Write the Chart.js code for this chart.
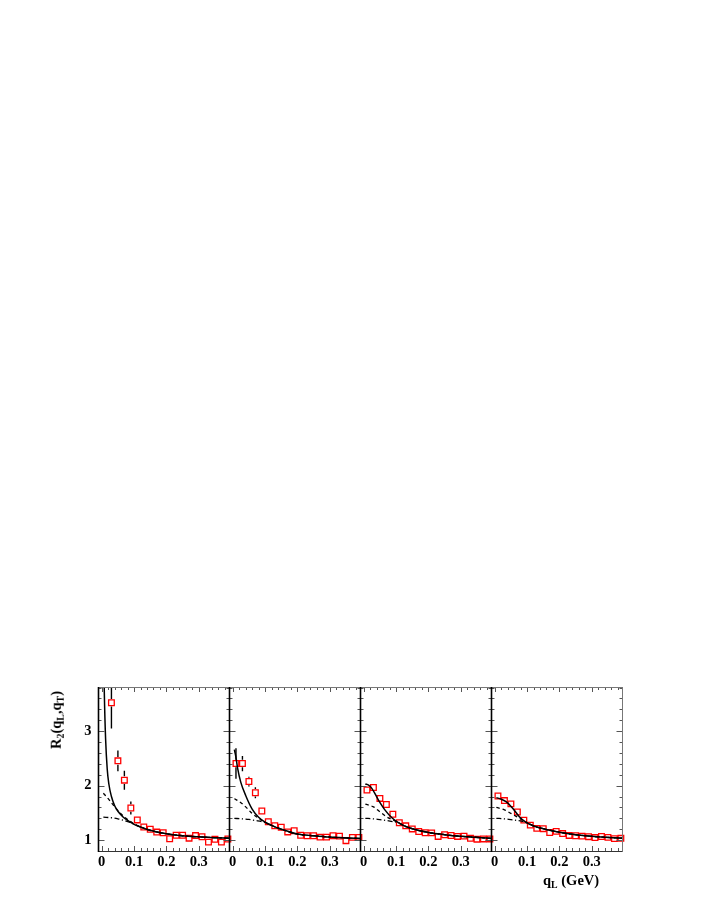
<!DOCTYPE html>
<html>
<head>
<meta charset="utf-8">
<script src="https://cdn.jsdelivr.net/npm/chart.js@4.4.1/dist/chart.umd.min.js"></script>
<style>
  body { margin: 0; background: #fff; }
  #wrap { position: relative; width: 708px; height: 917px; background: #fff; }
  #wrap canvas { position: absolute; left: 0; top: 0; }
  .lbl { position: absolute; font: bold 14.5px "Liberation Serif", serif; white-space: nowrap; line-height: 1; color: #000; }
  .lbl sub { font-size: 68%; vertical-align: -0.3em; line-height: 0; }
  #ytitle { left: 56px; top: 720px; transform: translate(-50%, -50%) rotate(-90deg); }
  #xtitle { left: 543px; top: 873px; }
</style>
</head>
<body>
<div id="wrap">
  <canvas id="p0" width="708" height="917"></canvas>
  <canvas id="p1" width="708" height="917"></canvas>
  <canvas id="p2" width="708" height="917"></canvas>
  <canvas id="p3" width="708" height="917"></canvas>
  <div class="lbl" id="ytitle">R<sub>2</sub>(q<sub>L</sub>,q<sub>T</sub>)</div>
  <div class="lbl" id="xtitle">q<sub>L</sub> (GeV)</div>
</div>
<script>
// bin centres in q_L (GeV)
const qBins = [0.01, 0.03, 0.05, 0.07, 0.09, 0.11, 0.13, 0.15, 0.17, 0.19,
               0.21, 0.23, 0.25, 0.27, 0.29, 0.31, 0.33, 0.35, 0.37, 0.39];

// measured R2 per panel (first bin of panel 1 is off scale)
const r2Panel1 = [null, 3.52, 2.455, 2.10, 1.59, 1.37, 1.24, 1.20, 1.147, 1.134,
                  1.024, 1.09, 1.09, 1.035, 1.083, 1.062, 0.963, 1.015, 0.963, 1.02];
const r2Panel2 = [2.405, 2.405, 2.075, 1.87, 1.535, 1.336, 1.263, 1.235, 1.15, 1.172,
                  1.09, 1.08, 1.08, 1.055, 1.055, 1.08, 1.073, 0.99, 1.05, 1.05];
const r2Panel3 = [1.92, 1.965, 1.765, 1.653, 1.475, 1.318, 1.262, 1.205, 1.158, 1.135,
                  1.133, 1.068, 1.098, 1.085, 1.068, 1.073, 1.033, 1.017, 1.022, 1.022];
const r2Panel4 = [1.81, 1.725, 1.665, 1.515, 1.367, 1.275, 1.215, 1.21, 1.14, 1.16,
                  1.12, 1.086, 1.08, 1.073, 1.063, 1.046, 1.066, 1.05, 1.027, 1.033];

const errPanel1 = [null, 0.47, 0.19, 0.175, 0.12, 0.06, 0.04, 0.03, 0.03, 0.03,
                   0.03, 0.02, 0.02, 0.02, 0.02, 0.02, 0.02, 0.02, 0.02, 0.02];
const errPanel2 = [0.28, 0.14, 0.09, 0.10, 0.07, 0.04, 0.03, 0.03, 0.02, 0.02,
                   0.02, 0.02, 0.02, 0.02, 0.02, 0.02, 0.02, 0.02, 0.02, 0.02];
const errPanel3 = [0.05, 0.04, 0.03, 0.03, 0.02, 0.02, 0.02, 0.02, 0.02, 0.02,
                   0.02, 0.02, 0.02, 0.02, 0.02, 0.02, 0.02, 0.02, 0.02, 0.02];
const errPanel4 = [0.03, 0.02, 0.02, 0.02, 0.02, 0.02, 0.02, 0.02, 0.02, 0.02,
                   0.02, 0.02, 0.02, 0.02, 0.02, 0.02, 0.02, 0.02, 0.02, 0.02];

// model curves, [q, R2]
const solid1 = [[0.005, 4.8], [0.008, 3.7], [0.012, 2.85], [0.017, 2.3], [0.022, 2.03], [0.03, 1.8],
                [0.04, 1.63], [0.05, 1.53], [0.065, 1.43], [0.08, 1.36], [0.1, 1.29], [0.12, 1.24],
                [0.15, 1.18], [0.2, 1.115], [0.25, 1.08], [0.3, 1.06], [0.35, 1.045], [0.395, 1.035]];
const dashed1 = [[0.005, 1.86], [0.02, 1.76], [0.04, 1.61], [0.06, 1.48], [0.08, 1.38], [0.1, 1.3],
                 [0.12, 1.24], [0.15, 1.18], [0.2, 1.115], [0.25, 1.08], [0.3, 1.06], [0.35, 1.045], [0.395, 1.035]];
const dashDot1 = [[0.005, 1.42], [0.03, 1.41], [0.05, 1.39], [0.07, 1.36], [0.09, 1.32], [0.1, 1.295],
                  [0.12, 1.24], [0.15, 1.18], [0.2, 1.115], [0.25, 1.08], [0.3, 1.06], [0.35, 1.045], [0.395, 1.035]];

const solid2 = [[0.005, 2.66], [0.01, 2.52], [0.015, 2.32], [0.025, 2.06], [0.04, 1.82], [0.06, 1.57],
                [0.08, 1.42], [0.1, 1.33], [0.12, 1.27], [0.15, 1.2], [0.2, 1.11], [0.25, 1.08],
                [0.3, 1.055], [0.35, 1.04], [0.395, 1.03]];
const dashed2 = [[0.005, 1.76], [0.02, 1.71], [0.04, 1.61], [0.06, 1.49], [0.08, 1.4], [0.1, 1.33],
                 [0.12, 1.27], [0.15, 1.2], [0.2, 1.11], [0.25, 1.08], [0.3, 1.055], [0.35, 1.04], [0.395, 1.03]];
const dashDot2 = [[0.005, 1.4], [0.03, 1.39], [0.05, 1.38], [0.07, 1.36], [0.09, 1.34], [0.11, 1.3],
                  [0.12, 1.27], [0.15, 1.2], [0.2, 1.11], [0.25, 1.08], [0.3, 1.055], [0.35, 1.04], [0.395, 1.03]];

const solid3 = [[0.005, 2.03], [0.015, 2.01], [0.025, 1.95], [0.046, 1.73], [0.066, 1.55], [0.087, 1.41],
                [0.107, 1.32], [0.13, 1.25], [0.15, 1.21], [0.2, 1.14], [0.25, 1.1], [0.3, 1.07],
                [0.35, 1.05], [0.395, 1.03]];
const dashed3 = [[0.005, 1.66], [0.03, 1.61], [0.05, 1.52], [0.07, 1.43], [0.09, 1.37], [0.107, 1.32],
                 [0.13, 1.25], [0.15, 1.21], [0.2, 1.14], [0.25, 1.1], [0.3, 1.07], [0.35, 1.05], [0.395, 1.03]];
const dashDot3 = [[0.005, 1.4], [0.03, 1.39], [0.05, 1.375], [0.07, 1.36], [0.09, 1.34], [0.107, 1.32],
                  [0.13, 1.25], [0.15, 1.21], [0.2, 1.14], [0.25, 1.1], [0.3, 1.07], [0.35, 1.05], [0.395, 1.03]];

const solid4 = [[0.005, 1.78], [0.02, 1.75], [0.036, 1.7], [0.056, 1.58], [0.076, 1.43], [0.096, 1.33],
                [0.12, 1.26], [0.15, 1.21], [0.2, 1.145], [0.25, 1.1], [0.3, 1.07], [0.35, 1.05], [0.395, 1.035]];
const dashed4 = [[0.005, 1.6], [0.03, 1.555], [0.05, 1.49], [0.065, 1.44], [0.08, 1.39], [0.096, 1.33],
                 [0.12, 1.26], [0.15, 1.21], [0.2, 1.145], [0.25, 1.1], [0.3, 1.07], [0.35, 1.05], [0.395, 1.035]];
const dashDot4 = [[0.005, 1.4], [0.03, 1.39], [0.05, 1.375], [0.07, 1.36], [0.09, 1.34], [0.105, 1.31],
                  [0.12, 1.26], [0.15, 1.21], [0.2, 1.145], [0.25, 1.1], [0.3, 1.07], [0.35, 1.05], [0.395, 1.035]];

const xTickValues = [0, 0.1, 0.2, 0.3];
const xTickLabels = ["0", "0.1", "0.2", "0.3"];
const yTickValues = [1, 2, 3];
const yTickLabels = ["1", "2", "3"];

const panels = [
  { r2: r2Panel1, err: errPanel1, solid: solid1, dashed: dashed1, dashDot: dashDot1 },
  { r2: r2Panel2, err: errPanel2, solid: solid2, dashed: dashed2, dashDot: dashDot2 },
  { r2: r2Panel3, err: errPanel3, solid: solid3, dashed: dashed3, dashDot: dashDot3 },
  { r2: r2Panel4, err: errPanel4, solid: solid4, dashed: dashed4, dashDot: dashDot4 }
];

// layout
const edges = [98.5, 229.5, 360.5, 491.5, 622.5];
const plotTop = 687, plotBottom = 851;
const yAxisW = 30, xAxisH = 22;
const tickFont = { family: "'Liberation Serif', serif", size: 14.5, weight: "bold" };

function drawErrorBars(chart) {
  const ds = chart.data.datasets[0];
  const xs = chart.scales.x, ys = chart.scales.y;
  const ctx = chart.ctx, a = chart.chartArea;
  const gap = 3.8;
  ctx.save();
  ctx.beginPath();
  ctx.rect(a.left, a.top, a.right - a.left, a.bottom - a.top);
  ctx.clip();
  ctx.strokeStyle = "#000";
  ctx.lineWidth = 1.4;
  ctx.beginPath();
  ds.data.forEach((p, i) => {
    const e = ds.errors[i];
    if (p.y == null || !e) return;
    const px = xs.getPixelForValue(p.x);
    const py = ys.getPixelForValue(p.y);
    const hi = ys.getPixelForValue(p.y + e);
    const lo = ys.getPixelForValue(p.y - e);
    if (py - gap > hi) { ctx.moveTo(px, hi); ctx.lineTo(px, py - gap); }
    if (py + gap < lo) { ctx.moveTo(px, py + gap); ctx.lineTo(px, lo); }
  });
  ctx.stroke();
  ctx.restore();
}

const frameTicks = {
  id: "frameTicks",
  afterDatasetDraw(chart, args) {
    if (args.index === 0) drawErrorBars(chart);
  },
  afterDraw(chart) {
    const ctx = chart.ctx, a = chart.chartArea;
    const xs = chart.scales.x, ys = chart.scales.y;
    const last = chart.options.plugins.frameTicks.last;
    ctx.save();
    // ticks, pointing inwards
    ctx.strokeStyle = "#555";
    ctx.lineWidth = 1;
    ctx.beginPath();
    for (let k = 0; k * 0.02 <= xs.max; k++) {
      const v = k * 0.02;
      const len = k % 5 === 0 ? 5 : 3;
      const px = Math.round(xs.getPixelForValue(v)) + 0.5;
      ctx.moveTo(px, a.bottom); ctx.lineTo(px, a.bottom - len);
      ctx.moveTo(px, a.top); ctx.lineTo(px, a.top + len);
    }
    for (let k = 4; k * 0.2 <= ys.max + 1e-9; k++) {
      const v = k * 0.2;
      const len = k % 5 === 0 ? 6 : 3;
      const py = Math.round(ys.getPixelForValue(v)) + 0.5;
      ctx.moveTo(a.left, py); ctx.lineTo(a.left + len, py);
      ctx.moveTo(a.right, py); ctx.lineTo(a.right - len, py);
    }
    ctx.stroke();
    // frame
    ctx.lineWidth = 1;
    ctx.strokeStyle = "#777";
    ctx.beginPath();
    ctx.moveTo(a.left, a.top + 0.5); ctx.lineTo(a.right, a.top + 0.5);
    if (last) { ctx.moveTo(a.right, a.top); ctx.lineTo(a.right, a.bottom); }
    ctx.stroke();
    ctx.strokeStyle = "#333";
    ctx.beginPath();
    ctx.moveTo(a.left, a.bottom + 0.5); ctx.lineTo(a.right, a.bottom + 0.5);
    ctx.stroke();
    ctx.strokeStyle = "#000";
    ctx.lineWidth = 1.6;
    ctx.beginPath();
    ctx.moveTo(a.left, a.top); ctx.lineTo(a.left, a.bottom + 1);
    ctx.stroke();
    ctx.restore();
  }
};

function curve(points, dash, order) {
  return {
    data: points.map(([x, y]) => ({ x, y })),
    showLine: true,
    pointRadius: 0,
    borderColor: "#000",
    backgroundColor: "#000",
    borderWidth: dash.length ? 1.3 : 1.5,
    borderDash: dash,
    cubicInterpolationMode: "monotone",
    fill: false,
    order
  };
}

panels.forEach((p, idx) => {
  const left = edges[idx], right = edges[idx + 1];
  new Chart(document.getElementById("p" + idx), {
    type: "scatter",
    data: {
      datasets: [
        {
          data: qBins.map((q, i) => ({ x: q, y: p.r2[i] })),
          errors: p.err,
          pointStyle: "rect",
          pointRadius: 4,
          borderWidth: 1.3,
          borderColor: "#ff0000",
          backgroundColor: "rgba(0,0,0,0)",
          clip: false,
          order: 5
        },
        curve(p.dashDot, [5, 2.5, 1.2, 2.5], 2),
        curve(p.dashed, [3.5, 3], 1),
        curve(p.solid, [], 0)
      ]
    },
    options: {
      responsive: false,
      animation: false,
      devicePixelRatio: 1,
      events: [],
      layout: {
        padding: {
          left: left - yAxisW,
          right: 708 - right,
          top: plotTop,
          bottom: 917 - plotBottom - xAxisH
        }
      },
      plugins: {
        legend: { display: false },
        tooltip: { enabled: false },
        frameTicks: { last: idx === panels.length - 1 }
      },
      scales: {
        x: {
          type: "linear",
          min: -0.01,
          max: 0.395,
          grid: { display: false, drawTicks: false },
          border: { display: false },
          afterFit: (s) => { s.height = xAxisH; },
          afterBuildTicks: (s) => { s.ticks = xTickValues.map((v) => ({ value: v })); },
          ticks: {
            callback: (v, i) => xTickLabels[i],
            font: tickFont,
            color: "#000",
            padding: 3,
            maxRotation: 0,
            autoSkip: false
          }
        },
        y: {
          type: "linear",
          min: 0.8,
          max: 3.81,
          grid: { display: false, drawTicks: false },
          border: { display: false },
          afterFit: (s) => { s.width = yAxisW; },
          afterBuildTicks: (s) => { s.ticks = yTickValues.map((v) => ({ value: v })); },
          ticks: {
            display: idx === 0,
            callback: (v, i) => yTickLabels[i],
            font: tickFont,
            color: "#000",
            padding: 7,
            autoSkip: false
          }
        }
      }
    },
    plugins: [frameTicks]
  });
});
</script>
</body>
</html>
